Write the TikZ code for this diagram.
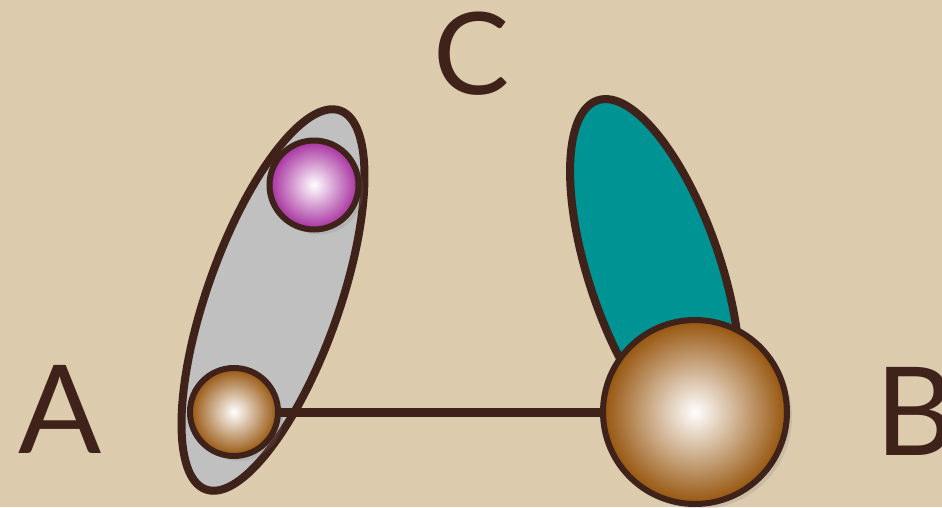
\documentclass[tikz,border=0pt]{standalone}
\usepackage{fontspec}
\setmainfont{Lato}
\usetikzlibrary{shapes.geometric,shadows}

\definecolor{paper}{RGB}{221,203,174}
\definecolor{ink}{RGB}{63,34,25}
\definecolor{lobegray}{RGB}{192,192,192}
\definecolor{lobeteal}{RGB}{0,147,147}
\definecolor{ballbrown}{RGB}{150,84,12}
\definecolor{ballpink}{RGB}{165,45,158}

\begin{document}
\begin{tikzpicture}[x=1pt,y=-1pt,
    lobe/.style={ellipse, draw=ink, line width=8pt, inner sep=0pt, fill=#1},
    ball/.style={circle, draw=ink, line width=6pt, inner sep=0pt,
        inner color=white, outer color=#1,
        drop shadow={opacity=0.2, shadow xshift=5pt, shadow yshift=-5pt}},
    bond/.style={draw=ink, line width=9pt},
    lbl/.style={text=ink, inner sep=0pt}]

        % Paper
        \useasboundingbox (0,0) rectangle (942,507);
        \clip (0,0) rectangle (942,507);
        \fill[paper] (0,0) rectangle (942,507);

        % Lobes
        \node[lobe=lobegray, minimum width=402pt, minimum height=132pt, rotate=70.5] (grayLobe) at (273,300) {};
        \node[lobe=lobeteal, minimum width=362pt, minimum height=132pt, rotate=108.5] (tealLobe) at (655,272) {};

        % Balls
        \node[ball=ballpink, minimum size=89pt] (pinkBall) at (314,185) {};
        \node[ball=ballbrown, minimum size=88pt] (smallBall) at (234,412) {};
        \node[ball=ballbrown, minimum size=184pt] (bigBall) at (695,412) {};

        % Bond
        \draw[bond] (smallBall) -- (bigBall);

        % Labels
        \node[lbl, font=\fontsize{123}{123}\selectfont] (labA) at (60,409) {A};
        \node[lbl, font=\fontsize{123}{123}\selectfont, anchor=west] (labB) at (875,411) {B};
        \node[lbl, font=\fontsize{114}{114}\selectfont] (labC) at (472,54) {C};
\end{tikzpicture}
\end{document}
